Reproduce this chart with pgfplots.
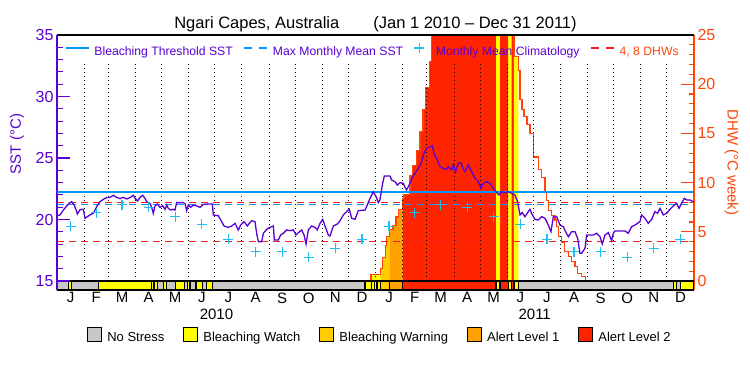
\documentclass[border=0pt]{standalone}
\usepackage{pgfplots}
\usepackage{pgfplotstable}
\pgfplotsset{compat=1.18}
\usepackage{fontspec}
\setmainfont{Liberation Sans}

\definecolor{sstc}{RGB}{90,0,210}
\definecolor{dhwc}{RGB}{255,70,10}
\definecolor{thr}{RGB}{0,150,255}
\definecolor{clim}{RGB}{30,190,240}
\definecolor{dhwdash}{RGB}{240,30,30}
\definecolor{nostress}{RGB}{200,200,200}
\definecolor{watch}{RGB}{255,255,0}
\definecolor{warning}{RGB}{255,204,0}
\definecolor{alertone}{RGB}{255,160,0}
\definecolor{alerttwo}{RGB}{255,36,0}

\pgfplotstableread{
d sst
0 20.3
3.4 20.37
7.3 20.77
11.1 21.1
13.8 21.3
16.8 21.45
19.5 21.2
21.8 20.8
23.3 20.45
26.4 20.8
30.2 20.83
32.1 20.1
34.8 20.23
37.8 20.37
41.6 20.5
45.5 21.05
49.3 21.45
53.1 21.64
56.9 21.78
60.7 21.8
64.6 21.97
68.4 21.8
72.2 21.7
76.0 21.8
79.8 21.67
83.7 21.78
87.5 21.97
89.4 21.72
92.4 21.5
95.1 21.8
98.2 21.97
100.8 21.72
102.8 21.45
106.6 21.3
108.5 20.99
110.4 20.5
112.3 21.1
115.0 21.26
118.0 20.99
121.1 21.12
123.8 20.83
125.7 21.18
127.6 20.9
130.3 20.77
133.3 20.83
135.2 20.77
137.1 21.37
141.0 21.37
144.8 21.37
146.7 21.3
148.6 20.72
150.5 21.18
153.2 20.99
156.2 21.18
160.1 21.1
163.9 20.99
167.7 21.23
173.4 21.26
178.0 21.26
179.2 20.37
184.9 20.3
188.7 19.83
191.4 19.47
196.4 19.36
200.2 19.47
204.0 19.69
207.8 19.15
210.5 19.55
214.3 19.83
218.2 19.47
220.4 19.69
223.1 19.9
226.9 19.83
228.8 18.88
230.7 18.2
234.5 18.2
236.5 18.88
240.3 19.2
244.1 19.36
247.9 19.47
249.1 18.33
253.6 18.33
256.3 18.74
259.4 18.88
263.2 19.15
267.0 19.09
270.8 19.15
273.9 18.74
276.6 18.93
280.4 19.15
283.1 18.74
285.4 18.01
288.0 19.15
291.8 19.47
295.7 19.36
298.3 19.15
301.4 19.69
304.5 20.01
307.1 19.47
310.9 18.74
312.9 18.66
316.7 19.47
321.3 19.63
324.3 19.9
328.1 20.37
331.9 20.64
335.0 20.83
337.7 20.1
341.5 20.01
345.3 20.72
353.0 20.77
355.6 21.18
358.7 21.72
362.5 22.26
365.6 21.86
368.2 21.37
370.1 21.58
373.2 22.94
375.1 23.54
381.6 23.54
383.5 23.21
387.3 23.08
390.0 22.8
393.1 22.99
396.9 22.94
398.8 22.62
400.7 22.4
404.5 22.94
407.6 23.48
410.2 23.75
414.1 24.16
417.9 24.7
420.6 25.38
423.6 25.79
427.4 25.92
430.1 25.98
432.4 25.24
435.1 24.97
438.9 24.3
442.7 24.16
446.5 24.08
448.4 24.3
452.3 24.03
454.2 24.43
456.8 23.89
459.9 24.57
463.0 24.62
465.6 24.08
467.5 23.89
471.4 24.43
475.2 23.89
479.0 23.35
482.8 23.08
485.9 22.53
488.5 22.94
492.4 23.08
496.2 22.94
500.0 22.53
503.8 22.18
506.5 21.99
509.6 22.26
513.4 22.18
517.2 22.26
521.0 22.13
524.8 21.99
527.9 21.45
530.6 20.37
533.2 20.56
536.3 20.23
540.1 20.64
542.0 20.83
543.9 20.5
547.8 20.01
551.6 19.96
555.4 20.23
559.2 20.1
563.0 19.55
566.1 19.01
568.8 20.23
572.6 20.23
576.4 19.55
580.2 19.42
582.9 19.01
586.0 18.6
589.8 19.01
593.6 19.01
596.7 18.47
599.3 17.25
601.2 17.25
605.1 17.66
607.0 18.74
610.8 18.74
614.6 18.74
618.4 18.88
622.3 18.6
624.9 18.01
628.0 18.74
631.8 18.93
635.6 18.28
637.5 18.88
639.4 19.07
645.2 19.07
650.9 19.07
654.7 18.88
658.5 19.42
662.4 19.55
668.1 19.83
670.0 20.37
673.8 20.1
677.6 19.69
681.5 20.01
685.3 20.64
688.3 20.5
691.0 20.91
694.8 20.37
698.6 20.5
702.5 20.83
706.3 21.1
710.1 21.32
712.8 20.91
715.8 21.32
718.9 21.72
721.6 21.59
725.4 21.59
729.2 21.45
730 21.45
}\sstdata

\pgfplotstableread{
d clim
15.5 19.45
45 20.56
74.5 21.2
105 21.0
135.5 20.23
166 19.6
196.5 18.39
227.5 17.39
258 17.39
288.5 16.93
319 17.66
349.5 18.39
380.5 19.45
410 20.56
439.5 21.2
470 21.0
500.5 20.23
531 19.6
561.5 18.39
592.5 17.39
623 17.39
653.5 16.93
684 17.66
714.5 18.39
}\climdata

\newcommand{\sbar}[3]{\addplot[fill=#1, draw=black, line width=1.1pt] coordinates {(#2,-0.915) (#2,0) (#3,0) (#3,-0.915)} --cycle;}

\begin{document}
\begin{tikzpicture}
\path[use as bounding box] (-57pt,-85pt) rectangle (693pt,290pt);

% ---------- DHW axis (right) ----------
\begin{axis}[
  at={(0pt,0pt)}, anchor=south west,
  scale only axis, width=637pt, height=255pt,
  xmin=0, xmax=730, ymin=-0.915, ymax=25,
  axis x line*=bottom, axis y line*=right,
  x axis line style={black,-,line width=1.1pt},
  y axis line style={dhwc,-,line width=1.1pt},
  xtick={15.5,45,74.5,105,135.5,166,196.5,227.5,258,288.5,319,349.5,380.5,410,439.5,470,500.5,531,561.5,592.5,623,653.5,684,714.5},
  xticklabels={J,F,M,A,M,J,J,A,S,O,N,D,J,F,M,A,M,J,J,A,S,O,N,D},
  x tick style={draw=none},
  xticklabel style={font=\fontsize{15}{15}\selectfont, black, yshift=1pt},
  ytick={0,5,10,15,20,25}, minor y tick num=4,
  tick align=inside,
  y tick style={dhwc, line width=1.1pt},
  major tick length=13pt, minor tick length=5pt,
  yticklabel style={dhwc, font=\fontsize{16}{16}\selectfont},
  /pgf/number format/assume math mode=true,
  legend columns=5,
  legend style={at={(0.507,-0.1804)}, anchor=center, draw=none, fill=none,
    font=\fontsize{13}{13}\selectfont,
    /tikz/every even column/.append style={column sep=17pt}},
  legend image code/.code={\draw[#1] (0pt,-3pt) rectangle (14pt,11pt); \path (17pt,4pt);},
]
\addlegendimage{fill=nostress, draw=black, line width=1pt}
\addlegendentry{No Stress}
\addlegendimage{fill=watch, draw=black, line width=1pt}
\addlegendentry{Bleaching Watch}
\addlegendimage{fill=warning, draw=black, line width=1pt}
\addlegendentry{Bleaching Warning}
\addlegendimage{fill=alertone, draw=black, line width=1pt}
\addlegendentry{Alert Level 1}
\addlegendimage{fill=alerttwo, draw=black, line width=1pt}
\addlegendentry{Alert Level 2}

% stress-level fill under the DHW curve
\addplot[const plot, fill=watch, draw=none] coordinates {(360.2,0) (360.2,0.7) (370.5,0.7) (370.5,0)} --cycle;
\addplot[const plot, fill=warning, draw=none] coordinates {(370.5,0) (370.5,0.7) (371,1.3) (373.5,2.4) (376,3.6) (378,4.5) (380.8,4.5) (380.8,0)} --cycle;
\addplot[const plot, fill=alertone, draw=none] coordinates {(380.8,0) (380.8,5.2) (385,5.6) (388.5,6.5) (391,7.3) (395.7,8.4) (396,8.4) (396,0)} --cycle;
\addplot[const plot, fill=alerttwo, draw=none] coordinates {(396,0) (396,8.4) (397.7,8.8) (404.5,10.7) (407.6,11.7) (412.2,13.3) (416,15.2) (419.4,17.4) (422.9,19.7) (426.7,22.3) (429.4,30) (503.1,30) (503.1,0)} --cycle;
\addplot[const plot, fill=watch, draw=none] coordinates {(503.1,0) (503.1,30) (507.7,30) (507.7,0)} --cycle;
\addplot[const plot, fill=alerttwo, draw=none] coordinates {(507.7,0) (507.7,30) (517.2,30) (517.2,0)} --cycle;
\addplot[const plot, fill=watch, draw=none] coordinates {(517.2,0) (517.2,30) (521.1,30) (521.1,0)} --cycle;
\addplot[const plot, fill=alerttwo, draw=none] coordinates {(521.1,0) (521.1,30) (523.7,30) (523.7,0)} --cycle;
\addplot[const plot, fill=watch, draw=none] coordinates {(523.7,0) (523.7,22.8) (528.6,22.8) (528.6,0)} --cycle;

% DHW curve
\addplot[const plot, dhwc, line width=1.1pt] coordinates {
(359.8,0) (359.8,0.7) (371,1.3) (373.5,2.4) (376,3.6) (378,4.5) (380.8,5.2) (385,5.6)
(388.5,6.5) (391,7.3) (395.7,8.4) (397.7,8.8) (404.5,10.7) (407.6,11.7) (412.2,13.3)
(416,15.2) (419.4,17.4) (422.9,19.7) (426.7,22.3) (429.4,30) (523.7,22.8) (528.6,21.4)
(530.6,18.4) (532.9,17.4) (535.2,16.7) (538.6,15.9) (542.1,15.0) (545.9,12.6) (551.6,11.3)
(555.5,10.5) (559.2,9.1) (561.2,8.2) (563.0,7.2) (566.9,6.7) (570.7,6.2) (572.6,5.5)
(574.5,4.5) (578.3,3.9) (582.1,3.0) (585.9,2.5) (589.8,2.0) (593.6,1.45) (596.7,0.8)
(601.3,0.44) (605.8,0) (605.8,0)};

% month separators
\pgfplotsinvokeforeach{31,59,90,120,151,181,212,243,273,304,334,365,396,424,455,485,516,546,577,608,638,669,699}{
  \draw[black, line width=1pt, dash pattern=on 1pt off 3pt] (axis cs:#1,0) -- (axis cs:#1,22.15);
}

% 4 and 8 DHW lines
\addplot[dhwdash, line width=1.1pt, dash pattern=on 7pt off 5pt] coordinates {(0,4) (730,4)};
\addplot[dhwdash, line width=1.1pt, dash pattern=on 7pt off 5pt] coordinates {(0,8) (730,8)};

% stress bar
\sbar{nostress}{0}{730}
\sbar{watch}{12.9}{16.8}
\sbar{watch}{47.3}{108.5}
\sbar{watch}{108.5}{111.2}
\sbar{watch}{111.2}{115.4}
\sbar{watch}{121.8}{125.7}
\sbar{watch}{136.0}{145.9}
\sbar{watch}{149.8}{152.4}
\sbar{watch}{159.3}{167.0}
\sbar{watch}{171.6}{178.0}
\sbar{watch}{353.0}{360.2}
\sbar{watch}{360.2}{363.6}
\sbar{watch}{363.6}{366.7}
\sbar{watch}{366.7}{370.5}
\sbar{warning}{370.5}{380.8}
\sbar{alertone}{380.8}{396.0}
\sbar{alerttwo}{396.0}{503.1}
\sbar{watch}{503.1}{507.7}
\sbar{alerttwo}{507.7}{517.2}
\sbar{watch}{517.2}{521.1}
\sbar{alerttwo}{521.1}{523.7}
\sbar{watch}{523.7}{528.6}
\sbar{watch}{706.3}{710.2}
\sbar{watch}{714.8}{730}
\end{axis}

% ---------- SST axis (left) ----------
\begin{axis}[
  at={(0pt,0pt)}, anchor=south west,
  scale only axis, width=637pt, height=255pt,
  xmin=0, xmax=730, ymin=14.268, ymax=35,
  axis x line*=top, axis y line*=left,
  x axis line style={black,-,line width=1.1pt},
  y axis line style={sstc,-,line width=1.1pt},
  xtick=\empty,
  ytick={15,20,25,30,35}, minor ytick={16,17,18,19,21,22,23,24,26,27,28,29,31,32,33,34},
  tick align=inside,
  y tick style={sstc, line width=1.1pt},
  major tick length=13pt, minor tick length=6pt,
  yticklabel style={sstc, font=\fontsize{16}{16}\selectfont},
  /pgf/number format/assume math mode=true,
  legend columns=4,
  legend style={at={(0.496,0.937)}, anchor=center, draw=none, fill=none,
    font=\fontsize{12.2}{12.2}\selectfont, text=sstc,
    /tikz/every even column/.append style={column sep=9pt}},
  legend image code/.code={\draw[mark repeat=2, mark phase=2, #1] plot coordinates {(0pt,4pt) (11.5pt,4pt) (23pt,4pt)}; \path (26pt,4pt);},
]
\addlegendimage{thr, line width=1.2pt}
\addlegendentry{Bleaching Threshold SST}
\addlegendimage{thr, line width=1.2pt, dash pattern=on 8pt off 7pt}
\addlegendentry{Max Monthly Mean SST}
\addlegendimage{only marks, mark=+, clim, mark size=5pt, mark options={line width=1.1pt}}
\addlegendentry{Monthly Mean Climatology}
\addlegendimage{dhwdash, line width=1.1pt, dash pattern=on 8pt off 7pt}
\addlegendentry{\textcolor{dhwc}{4, 8 DHWs}}

\addplot[thr, line width=1.2pt] coordinates {(0,22.24) (730,22.24)};
\addplot[thr, line width=1.2pt, dash pattern=on 7pt off 5pt] coordinates {(0,21.24) (730,21.24)};
\addplot[only marks, mark=+, clim, mark size=5pt, mark options={line width=1.1pt}] table[x=d, y=clim] {\climdata};
\addplot[sstc, line width=1.3pt] table[x=d, y=sst] {\sstdata};
\end{axis}

% titles and labels
\node[anchor=base, font=\fontsize{16.5}{16.5}\selectfont] at (318.5pt,261pt) {Ngari Capes, Australia\hspace{34pt}(Jan 1 2010 -- Dec 31 2011)};
\node[rotate=90, text=sstc, font=\fontsize{15}{15}\selectfont] at (-40pt,146pt) {SST (°C)};
\node[rotate=-90, text=dhwc, font=\fontsize{15}{15}\selectfont] at (674.5pt,127.5pt) {DHW (°C week)};
\node[font=\fontsize{15}{15}\selectfont] at (159.5pt,-24pt) {2010};
\node[font=\fontsize{15}{15}\selectfont] at (477.7pt,-24pt) {2011};
\end{tikzpicture}
\end{document}
